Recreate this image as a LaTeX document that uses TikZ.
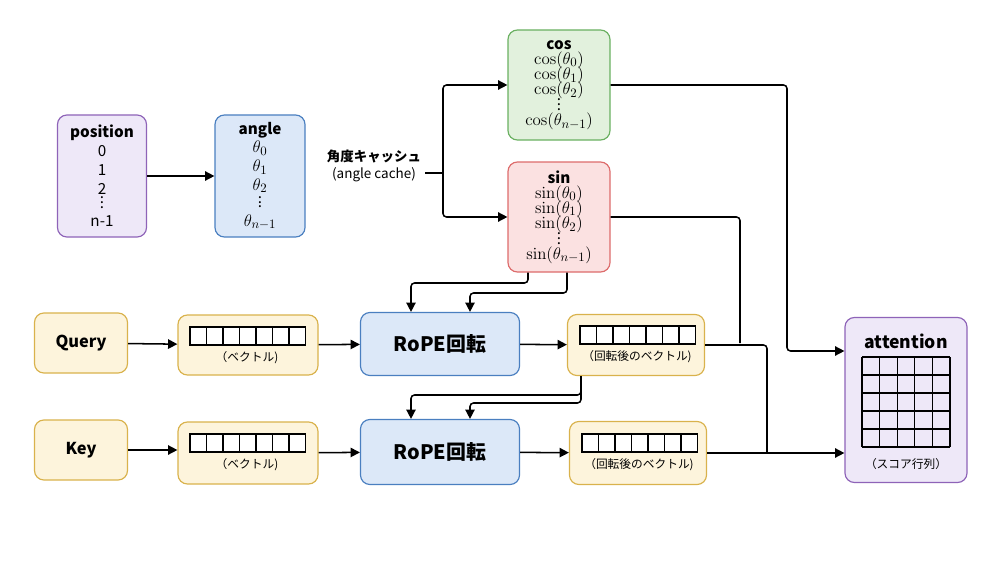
\documentclass[tikz,border=0pt]{standalone}
\usepackage[no-math]{fontspec}
\setmainfont{Noto Sans CJK JP}
\usepackage{amsmath}
\DeclareMathSizes{13}{15}{11}{9}
\usetikzlibrary{arrows.meta,positioning,calc}

\definecolor{purpleD}{HTML}{8E63B8}
\definecolor{purpleL}{HTML}{EEE8F8}
\definecolor{blueD}{HTML}{4A7FC0}
\definecolor{blueL}{HTML}{DCE8F8}
\definecolor{greenD}{HTML}{6AB061}
\definecolor{greenL}{HTML}{E2F1DD}
\definecolor{redD}{HTML}{DD6B6B}
\definecolor{redL}{HTML}{FBE1E1}
\definecolor{yellowD}{HTML}{D9B24C}
\definecolor{yellowL}{HTML}{FDF4DC}

\begin{document}
\begin{tikzpicture}[x=0.03cm,y=-0.03cm,>={Triangle[length=8pt,width=8pt]},font=\fontsize{13}{16}\selectfont]
  \tikzset{box/.style={draw,rounded corners=8pt,line width=1pt,align=center,inner sep=0pt},
    flow/.style={->,line width=1.3pt,rounded corners=3pt},
    wire/.style={line width=1.3pt,rounded corners=3pt},
    small/.style={font=\fontsize{10}{12}\selectfont}}
  \useasboundingbox (0,0) rectangle (1000,563);

  % upper row
  \node[box,draw=purpleD,fill=purpleL,minimum width=89*0.03cm,minimum height=122*0.03cm] (pos) at (102,176)
    {\textbf{position}\\ 0\\ 1\\ 2\\[-4pt] $\vdots$\\ n-1};
  \node[box,draw=blueD,fill=blueL,minimum width=90*0.03cm,minimum height=122*0.03cm] (ang) at (260,176)
    {\textbf{angle}\\ $\theta_0$\\ $\theta_1$\\ $\theta_2$\\[-4pt] $\vdots$\\ $\theta_{n-1}$};
  \node[align=center,font=\fontsize{11.5}{15}\selectfont] (cache) at (374,166) {\textbf{角度キャッシュ}\\(angle cache)};
  \node[box,draw=greenD,fill=greenL,minimum width=102*0.03cm,minimum height=110*0.03cm] (cos) at (559,85)
    {\textbf{cos}\\[-3pt] $\cos(\theta_0)$\\[-3pt] $\cos(\theta_1)$\\[-3pt] $\cos(\theta_2)$\\[-7pt] $\vdots$\\[-3pt] $\cos(\theta_{n-1})$};
  \node[box,draw=redD,fill=redL,minimum width=102*0.03cm,minimum height=110*0.03cm] (sin) at (559,217)
    {\textbf{sin}\\[-3pt] $\sin(\theta_0)$\\[-3pt] $\sin(\theta_1)$\\[-3pt] $\sin(\theta_2)$\\[-7pt] $\vdots$\\[-3pt] $\sin(\theta_{n-1})$};
  \coordinate (split) at (443,173);

  % query / key rows
  \node[box,draw=yellowD,fill=yellowL,minimum width=93*0.03cm,minimum height=60*0.03cm,font=\fontsize{14}{16}\selectfont\bfseries] (q) at (81,343) {Query};
  \node[box,draw=yellowD,fill=yellowL,minimum width=93*0.03cm,minimum height=60*0.03cm,font=\fontsize{14}{16}\selectfont\bfseries] (k) at (81,450) {Key};
  \node[box,draw=yellowD,fill=yellowL,minimum width=140*0.03cm,minimum height=60*0.03cm] (qv) at (248,345) {};
  \node[box,draw=yellowD,fill=yellowL,minimum width=140*0.03cm,minimum height=62*0.03cm] (kv) at (248,453) {};
  \node[box,draw=blueD,fill=blueL,minimum width=159*0.03cm,minimum height=63*0.03cm,font=\fontsize{17}{20}\selectfont\bfseries] (qr) at (440,344) {RoPE回転};
  \node[box,draw=blueD,fill=blueL,minimum width=159*0.03cm,minimum height=65*0.03cm,font=\fontsize{17}{20}\selectfont\bfseries] (kr) at (440,452) {RoPE回転};
  \node[box,draw=yellowD,fill=yellowL,minimum width=137*0.03cm,minimum height=61*0.03cm] (qo) at (636,345) {};
  \node[box,draw=yellowD,fill=yellowL,minimum width=137*0.03cm,minimum height=63*0.03cm] (ko) at (638,453) {};
  \node[box,draw=purpleD,fill=purpleL,minimum width=122*0.03cm,minimum height=165*0.03cm] (att) at (906,400) {};
  \node[font=\fontsize{15}{18}\selectfont\bfseries] at (906,341) {attention};
  \node[small] at (906,464) {（スコア行列）};
  \foreach \i in {0,...,5}{
    \draw[line width=1.1pt] (862+\i*17.6,357) -- (862+\i*17.6,447);
    \draw[line width=1.1pt] (862,357+\i*18) -- (950,357+\i*18);
  }

  % vector cells
  \foreach \bx/\by/\lab in {190/327/（ベクトル),190/434/（ベクトル),580/326/（回転後のベクトル),582/434/（回転後のベクトル)}{
    \foreach \i in {0,...,6}
      \draw[line width=1pt,fill=white] (\bx+\i*16.5,\by) rectangle ++(16.5,18);
    \node[small] at (\bx+57,\by+31) {\lab};
  }

  % connectors
  \draw[flow] (pos) -- (ang);
  \draw[wire] (cache.east |- split) -- (split);
  \draw[flow] (split) |- (cos.west);
  \draw[flow] (split) |- (sin.west);
  \draw[flow] (q) -- (qv);
  \draw[flow] (k) -- (k -| kv.west);
  \draw[flow] (qv) -- (qr);
  \draw[flow] (kv) -- (kr);
  \draw[flow] (qr) -- (qo);
  \draw[flow] (kr) -- (ko);
  \draw[flow] (sin.south -| 528,0) |- (411,283) -- (qr.north -| 411,0);
  \draw[flow] (sin.south -| 567,0) |- (470,293) -- (qr.north -| 470,0);
  \draw[flow] (qo.south -| 581,0) |- (411,395) -- (kr.north -| 411,0);
  \draw[flow] (qo.south -| 581,0) |- (470,403) -- (kr.north -| 470,0);
  \draw[flow] (cos.east) -| (787,351) -- (att.west |- 0,351);
  \draw[wire] (sin.east) -| (740,343);
  \draw[wire] (qo.east) -| (767,452);
  \draw[flow] (ko.east) -- (att.west |- ko.east);
\end{tikzpicture}
\end{document}
